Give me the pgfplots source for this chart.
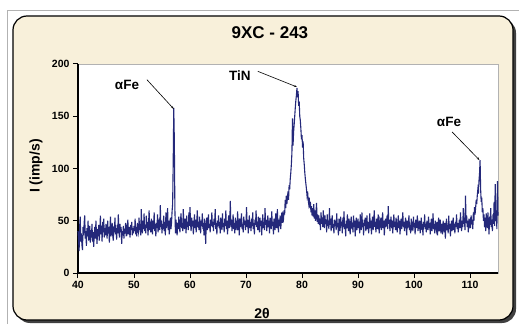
\documentclass[border=0pt]{standalone}
\usepackage{fontspec}
\setmainfont{Liberation Sans}
\usepackage{pgfplots}
\pgfplotsset{compat=1.18}
\usetikzlibrary{arrows.meta}
\definecolor{beige}{RGB}{248,240,218}
\definecolor{navy}{RGB}{36,40,122}
\begin{document}
\begin{tikzpicture}[x=1pt,y=1pt]
\path[use as bounding box] (0,0) rectangle (519,324);
\fill[white] (0,0) rectangle (519,324);
\draw[gray!60, line width=0.8pt] (7,0) -- (7,314) -- (519,314);
\fill[black!75, rounded corners=14pt] (16,1) rectangle (516,305);
\draw[black, line width=1.2pt, fill=beige, rounded corners=14pt] (13,4) rectangle (513,308);
\begin{axis}[
  at={(78pt,51pt)}, anchor=south west,
  scale only axis, width=420pt, height=209pt,
  xmin=40, xmax=115, ymin=0, ymax=200,
  xtick={40,50,...,110}, ytick={0,50,...,200},
  axis x line*=bottom, axis y line*=left,
  axis line style={-, black, line width=1.3pt},
  axis background/.style={fill=white, draw=gray!60, line width=0.8pt},
  tick align=outside, major tick length=5pt,
  tick style={black, line width=1pt},
  /pgf/number format/assume math mode=true,
  tick label style={font=\fontsize{10.5}{12}\selectfont\bfseries},
  title={9XC - 243},
  title style={font=\fontsize{17}{20}\selectfont\bfseries, at={(axis description cs:0.457,1.12)}, anchor=center},
  xlabel={2θ},
  xlabel style={font=\fontsize{14}{16}\selectfont\bfseries, at={(axis description cs:0.438,-0.195)}, anchor=center},
  ylabel={I (imp/s)},
  ylabel style={font=\fontsize{14}{16}\selectfont\bfseries, at={(axis description cs:-0.1,0.512)}, anchor=center},
  clip=false,
]
\addplot[navy, line width=1.1pt, mark=none] coordinates {
(40.0,40)(40.1,32)(40.2,21)(40.3,45)(40.4,54)(40.5,30)(40.6,38)(40.7,27)(40.8,22)(40.9,44)
(41.0,36)(41.1,48)(41.2,55)(41.3,33)(41.4,40)(41.5,26)(41.6,43)(41.7,35)(41.8,50)(41.9,31)
(42.0,37)(42.1,45)(42.2,29)(42.3,41)(42.4,34)(42.5,47)(42.6,30)(42.7,39)(42.8,25)(42.9,36)
(43.0,44)(43.1,33)(43.2,50)(43.3,38)(43.4,28)(43.5,42)(43.6,35)(43.7,46)(43.8,31)(43.9,40)
(44.0,55)(44.1,37)(44.2,45)(44.3,30)(44.4,49)(44.5,39)(44.6,52)(44.7,34)(44.8,43)(44.9,36)
(45.0,47)(45.1,41)(45.2,33)(45.3,50)(45.4,38)(45.5,44)(45.6,29)(45.7,42)(45.8,54)(45.9,35)
(46.0,40)(46.1,48)(46.2,36)(46.3,31)(46.4,45)(46.5,39)(46.6,53)(46.7,37)(46.8,43)(46.9,32)
(47.0,46)(47.1,38)(47.2,56)(47.3,41)(47.4,34)(47.5,47)(47.6,39)(47.7,44)(47.8,28)(47.9,40)
(48.0,36)(48.1,45)(48.2,33)(48.3,42)(48.4,38)(48.5,48)(48.6,35)(48.7,43)(48.8,40)(48.9,51)
(49.0,37)(49.1,44)(49.2,39)(49.3,34)(49.4,46)(49.5,41)(49.6,49)(49.7,36)(49.8,43)(49.9,38)
(50.0,45)(50.1,40)(50.2,52)(50.3,37)(50.4,44)(50.5,35)(50.6,48)(50.7,42)(50.8,39)(50.9,53)
(51.0,41)(51.1,47)(51.2,36)(51.3,61)(51.4,44)(51.5,38)(51.6,50)(51.7,42)(51.8,57)(51.9,40)
(52.0,46)(52.1,38)(52.2,55)(52.3,43)(52.4,49)(52.5,36)(52.6,47)(52.7,60)(52.8,41)(52.9,45)
(53.0,39)(53.1,52)(53.2,44)(53.3,37)(53.4,50)(53.5,42)(53.6,58)(53.7,40)(53.8,47)(53.9,35)
(54.0,48)(54.1,43)(54.2,56)(54.3,39)(54.4,46)(54.5,52)(54.6,41)(54.7,65)(54.8,44)(54.9,50)
(55.0,38)(55.1,47)(55.2,42)(55.3,55)(55.4,40)(55.5,49)(55.6,36)(55.7,58)(55.8,43)(55.9,47)
(56.0,62)(56.1,41)(56.2,50)(56.3,37)(56.4,46)(56.5,53)(56.6,42)(56.7,48)(56.8,59)(56.9,66)
(57.0,105)(57.1,158)(57.2,128)(57.3,62)(57.4,38)(57.5,51)(57.6,44)(57.7,36)(57.8,48)(57.9,42)
(58.0,54)(58.1,45)(58.2,39)(58.3,50)(58.4,57)(58.5,43)(58.6,48)(58.7,40)(58.8,61)(58.9,46)
(59.0,42)(59.1,52)(59.2,47)(59.3,38)(59.4,55)(59.5,44)(59.6,49)(59.7,41)(59.8,58)(59.9,45)
(60.0,63)(60.1,47)(60.2,40)(60.3,53)(60.4,45)(60.5,50)(60.6,37)(60.7,48)(60.8,56)(60.9,43)
(61.0,51)(61.1,39)(61.2,47)(61.3,60)(61.4,44)(61.5,49)(61.6,41)(61.7,54)(61.8,46)(61.9,38)
(62.0,50)(62.1,45)(62.2,57)(62.3,42)(62.4,48)(62.5,36)(62.6,52)(62.7,44)(62.8,28)(62.9,47)
(63.0,53)(63.1,41)(63.2,49)(63.3,56)(63.4,43)(63.5,47)(63.6,39)(63.7,51)(63.8,45)(63.9,58)
(64.0,44)(64.1,49)(64.2,40)(64.3,52)(64.4,46)(64.5,61)(64.6,42)(64.7,48)(64.8,37)(64.9,50)
(65.0,45)(65.1,55)(65.2,43)(65.3,49)(65.4,38)(65.5,53)(65.6,46)(65.7,41)(65.8,57)(65.9,44)
(66.0,48)(66.1,39)(66.2,52)(66.3,45)(66.4,60)(66.5,42)(66.6,50)(66.7,37)(66.8,47)(66.9,55)
(67.0,43)(67.1,49)(67.2,69)(67.3,44)(67.4,51)(67.5,40)(67.6,47)(67.7,56)(67.8,42)(67.9,48)
(68.0,38)(68.1,53)(68.2,46)(68.3,50)(68.4,41)(68.5,59)(68.6,45)(68.7,48)(68.8,36)(68.9,52)
(69.0,44)(69.1,49)(69.2,57)(69.3,42)(69.4,47)(69.5,39)(69.6,54)(69.7,46)(69.8,50)(69.9,41)
(70.0,48)(70.1,63)(70.2,44)(70.3,51)(70.4,38)(70.5,47)(70.6,55)(70.7,43)(70.8,49)(70.9,40)
(71.0,52)(71.1,45)(71.2,58)(71.3,42)(71.4,48)(71.5,37)(71.6,51)(71.7,46)(71.8,60)(71.9,44)
(72.0,49)(72.1,41)(72.2,54)(72.3,47)(72.4,39)(72.5,53)(72.6,45)(72.7,50)(72.8,36)(72.9,48)
(73.0,56)(73.1,43)(73.2,49)(73.3,41)(73.4,62)(73.5,46)(73.6,51)(73.7,40)(73.8,47)(73.9,55)
(74.0,44)(74.1,50)(74.2,38)(74.3,53)(74.4,47)(74.5,42)(74.6,59)(74.7,45)(74.8,49)(74.9,37)
(75.0,52)(75.1,46)(75.2,41)(75.3,57)(75.4,48)(75.5,43)(75.6,61)(75.7,47)(75.8,39)(75.9,51)
(76.0,45)(76.1,55)(76.2,42)(76.3,49)(76.4,58)(76.5,48)(76.6,55)(76.7,52)(76.8,60)(76.9,56)
(77.0,70)(77.1,62)(77.2,74)(77.3,66)(77.4,72)(77.5,78)(77.6,70)(77.7,84)(77.8,80)(77.9,90)
(78.0,96)(78.1,104)(78.2,115)(78.3,148)(78.4,122)(78.5,135)(78.6,142)(78.7,150)(78.8,158)(78.9,165)
(79.0,170)(79.1,177)(79.2,168)(79.3,174)(79.4,160)(79.5,164)(79.6,150)(79.7,146)(79.8,138)(79.9,128)
(80.0,132)(80.1,120)(80.2,126)(80.3,110)(80.4,104)(80.5,96)(80.6,90)(80.7,85)(80.8,80)(80.9,74)
(81.0,78)(81.1,70)(81.2,66)(81.3,72)(81.4,62)(81.5,68)(81.6,58)(81.7,64)(81.8,55)(81.9,62)
(82.0,54)(82.1,66)(82.2,52)(82.3,60)(82.4,50)(82.5,58)(82.6,67)(82.7,49)(82.8,56)(82.9,47)
(83.0,55)(83.1,46)(83.2,52)(83.3,41)(83.4,58)(83.5,47)(83.6,53)(83.7,44)(83.8,60)(83.9,48)
(84.0,43)(84.1,55)(84.2,47)(84.3,51)(84.4,39)(84.5,56)(84.6,45)(84.7,50)(84.8,42)(84.9,62)
(85.0,46)(85.1,52)(85.2,40)(85.3,49)(85.4,55)(85.5,43)(85.6,47)(85.7,38)(85.8,51)(85.9,45)
(86.0,50)(86.1,41)(86.2,57)(86.3,44)(86.4,48)(86.5,36)(86.6,52)(86.7,46)(86.8,40)(86.9,54)
(87.0,45)(87.1,49)(87.2,38)(87.3,53)(87.4,44)(87.5,59)(87.6,42)(87.7,47)(87.8,35)(87.9,50)
(88.0,43)(88.1,56)(88.2,46)(88.3,40)(88.4,52)(88.5,45)(88.6,37)(88.7,49)(88.8,54)(88.9,42)
(89.0,48)(89.1,39)(89.2,55)(89.3,44)(89.4,50)(89.5,35)(89.6,47)(89.7,53)(89.8,41)(89.9,46)
(90.0,52)(90.1,43)(90.2,49)(90.3,38)(90.4,56)(90.5,45)(90.6,41)(90.7,58)(90.8,44)(90.9,48)
(91.0,36)(91.1,51)(91.2,45)(91.3,53)(91.4,40)(91.5,47)(91.6,55)(91.7,42)(91.8,49)(91.9,38)
(92.0,46)(92.1,57)(92.2,43)(92.3,50)(92.4,37)(92.5,48)(92.6,54)(92.7,41)(92.8,47)(92.9,60)
(93.0,44)(93.1,49)(93.2,39)(93.3,52)(93.4,46)(93.5,42)(93.6,56)(93.7,45)(93.8,38)(93.9,50)
(94.0,47)(94.1,53)(94.2,41)(94.3,48)(94.4,58)(94.5,43)(94.6,50)(94.7,36)(94.8,46)(94.9,52)
(95.0,44)(95.1,49)(95.2,55)(95.3,42)(95.4,64)(95.5,47)(95.6,51)(95.7,40)(95.8,48)(95.9,54)
(96.0,43)(96.1,50)(96.2,38)(96.3,47)(96.4,56)(96.5,44)(96.6,49)(96.7,41)(96.8,53)(96.9,46)
(97.0,39)(97.1,48)(97.2,55)(97.3,43)(97.4,50)(97.5,37)(97.6,46)(97.7,52)(97.8,42)(97.9,48)
(98.0,58)(98.1,44)(98.2,49)(98.3,40)(98.4,47)(98.5,53)(98.6,45)(98.7,36)(98.8,50)(98.9,43)
(99.0,48)(99.1,55)(99.2,41)(99.3,46)(99.4,38)(99.5,52)(99.6,45)(99.7,49)(99.8,40)(99.9,54)
(100.0,44)(100.1,48)(100.2,37)(100.3,51)(100.4,43)(100.5,47)(100.6,55)(100.7,40)(100.8,46)(100.9,42)
(101.0,50)(101.1,38)(101.2,45)(101.3,53)(101.4,41)(101.5,47)(101.6,36)(101.7,49)(101.8,44)(101.9,56)
(102.0,42)(102.1,47)(102.2,39)(102.3,50)(102.4,45)(102.5,41)(102.6,54)(102.7,43)(102.8,48)(102.9,37)
(103.0,46)(103.1,52)(103.2,40)(103.3,45)(103.4,57)(103.5,42)(103.6,47)(103.7,38)(103.8,50)(103.9,44)
(104.0,41)(104.1,49)(104.2,36)(104.3,46)(104.4,53)(104.5,40)(104.6,45)(104.7,51)(104.8,38)(104.9,47)
(105.0,43)(105.1,37)(105.2,50)(105.3,44)(105.4,39)(105.5,48)(105.6,33)(105.7,45)(105.8,52)(105.9,41)
(106.0,46)(106.1,38)(106.2,55)(106.3,42)(106.4,47)(106.5,35)(106.6,44)(106.7,50)(106.8,40)(106.9,46)
(107.0,53)(107.1,41)(107.2,47)(107.3,38)(107.4,49)(107.5,44)(107.6,56)(107.7,42)(107.8,48)(107.9,39)
(108.0,45)(108.1,51)(108.2,43)(108.3,58)(108.4,46)(108.5,40)(108.6,50)(108.7,44)(108.8,62)(108.9,47)
(109.0,53)(109.1,41)(109.2,74)(109.3,48)(109.4,55)(109.5,44)(109.6,50)(109.7,39)(109.8,52)(109.9,46)
(110.0,49)(110.1,43)(110.2,55)(110.3,47)(110.4,51)(110.5,42)(110.6,58)(110.7,50)(110.8,63)(110.9,56)
(111.0,62)(111.1,70)(111.2,66)(111.3,74)(111.4,80)(111.5,76)(111.6,88)(111.7,95)(111.8,108)(111.9,80)
(112.0,68)(112.1,72)(112.2,58)(112.3,62)(112.4,50)(112.5,56)(112.6,44)(112.7,53)(112.8,40)(112.9,57)
(113.0,52)(113.1,43)(113.2,58)(113.3,48)(113.4,37)(113.5,54)(113.6,46)(113.7,62)(113.8,44)(113.9,51)
(114.0,40)(114.1,56)(114.2,47)(114.3,68)(114.4,45)(114.5,85)(114.6,50)(114.7,60)(114.8,42)(114.9,88)
(115.0,55)
};
\node[font=\fontsize{13.5}{15}\selectfont\bfseries] at (axis cs:48.75,180) {αFe};
\draw[black, line width=0.6pt, -{Stealth[length=3pt,width=2pt]}] (axis cs:52.3,185) -- (axis cs:57.1,157);
\node[font=\fontsize{13.5}{15}\selectfont\bfseries] at (axis cs:68.9,188.5) {TiN};
\draw[black, line width=0.6pt, -{Stealth[length=3pt,width=2pt]}] (axis cs:72.1,193) -- (axis cs:79.1,178);
\node[font=\fontsize{13.5}{15}\selectfont\bfseries] at (axis cs:106.25,145) {αFe};
\draw[black, line width=0.6pt, -{Stealth[length=3pt,width=2pt]}] (axis cs:106.8,135) -- (axis cs:111.7,108);
\end{axis}
\end{tikzpicture}
\end{document}
